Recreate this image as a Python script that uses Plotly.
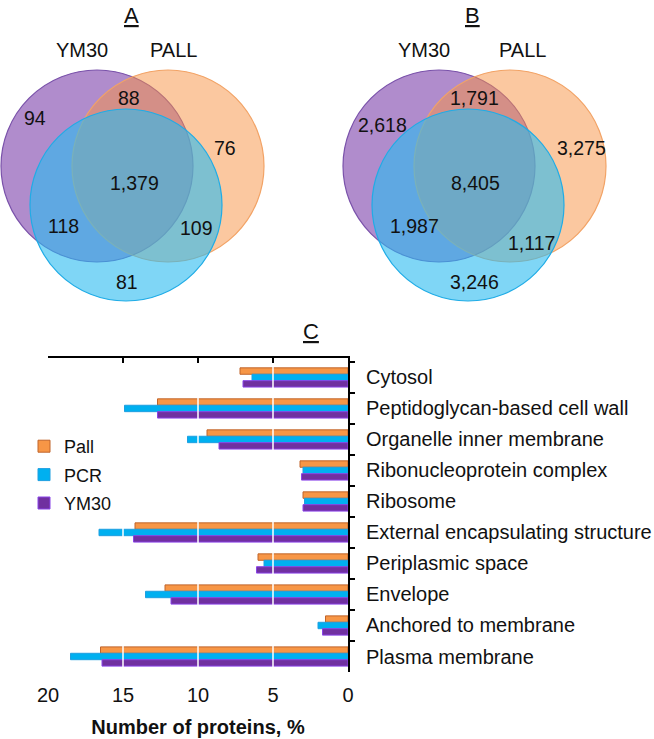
import plotly.graph_objects as go

# ---------------- data ----------------
categories = [
    "Cytosol",
    "Peptidoglycan-based cell wall",
    "Organelle inner membrane",
    "Ribonucleoprotein complex",
    "Ribosome",
    "External encapsulating structure",
    "Periplasmic space",
    "Envelope",
    "Anchored to membrane",
    "Plasma membrane",
]
pall = [7.2, 12.7, 9.4, 3.2, 3.0, 14.2, 6.0, 12.2, 1.5, 16.5]
pcr = [6.4, 14.9, 10.7, 3.0, 2.9, 16.6, 5.6, 13.5, 2.0, 18.5]
ym30 = [7.0, 12.7, 8.6, 3.1, 3.0, 14.3, 6.1, 11.8, 1.7, 16.4]
x_ticks = [20, 15, 10, 5, 0]
grid_vals = [15, 10, 5]

venn_sets = ["YM30", "PALL", "PCR"]
# regions: YM30 only, YM30&PALL, PALL only, all, YM30&PCR, PALL&PCR, PCR only
venn_a_counts = ["94", "88", "76", "1,379", "118", "109", "81"]
venn_b_counts = ["2,618", "1,791", "3,275", "8,405", "1,987", "1,117", "3,246"]

FONT = "Liberation Sans, Arial, sans-serif"

fig = go.Figure()

series = [
    ("Pall", pall, "#F79646", "#C0642A"),
    ("PCR", pcr, "#00B0F0", "#1F9FE0"),
    ("YM30", ym30, "#7030A0", "#8A44E8"),
]
for name, vals, fill, edge in series:
    fig.add_trace(go.Bar(
        name=name, x=vals, y=categories, orientation="h",
        xaxis="x4", yaxis="y4",
        marker=dict(color=fill, line=dict(color=edge, width=1)),
        legendgroup=name,
    ))

# invisible helper so the bottom tick-label axis gets drawn
fig.add_trace(go.Scatter(x=x_ticks, y=[categories[0]] * len(x_ticks), xaxis="x5", yaxis="y4",
                         mode="markers", marker=dict(opacity=0), showlegend=False,
                         hoverinfo="skip"))

W, H = 654, 739

# ---------------- Venn diagrams ----------------
R = 96
circle_offsets = [(0, 0), (71, 0), (29, 39)]
circle_fill = ["rgba(124,64,170,0.6)", "rgba(247,145,65,0.5)", "rgba(42,187,240,0.6)"]
circle_line = ["#7A52AA", "#F2A366", "#20ACE6"]

panels = [
    dict(xa="x2", ya="y2", origin=(97, 166), counts=venn_a_counts, letter="A",
         count_pos=[(-62, -48), (32, -68), (128, -18), (37, 17), (-34, 60), (99, 62), (30, 116)],
         set_pos=[(-15, -116), (76, -116), (40, 155)], letter_pos=(34, -151)),
    dict(xa="x3", ya="y3", origin=(112, 166), counts=venn_b_counts, letter="B",
         count_pos=[(-57, -41), (35, -68), (142, -18), (36, 17), (-25, 60), (92, 77), (35, 116)],
         set_pos=[(-15, -116), (83, -116), (41, 155)], letter_pos=(33, -151)),
]

for p in panels:
    ox, oy = p["origin"]
    for (dx, dy), fc, lc in zip(circle_offsets, circle_fill, circle_line):
        cx, cy = ox + dx, oy + dy
        fig.add_shape(type="circle", xref=p["xa"], yref=p["ya"],
                      x0=cx - R, x1=cx + R, y0=cy - R, y1=cy + R,
                      fillcolor=fc, line=dict(color=lc, width=1.2), layer="above")
    for txt, (dx, dy) in zip(p["counts"], p["count_pos"]):
        fig.add_annotation(x=ox + dx, y=oy + dy, xref=p["xa"], yref=p["ya"], text=txt,
                           showarrow=False, font=dict(size=19.5, color="#111", family=FONT))
    for txt, (dx, dy) in zip(venn_sets, p["set_pos"]):
        fig.add_annotation(x=ox + dx, y=oy + dy, xref=p["xa"], yref=p["ya"], text=txt,
                           showarrow=False, font=dict(size=20, color="#111", family=FONT))
    lx, ly = p["letter_pos"]
    fig.add_annotation(x=ox + lx, y=oy + ly, xref=p["xa"], yref=p["ya"],
                       text="<u>%s</u>" % p["letter"], showarrow=False,
                       font=dict(size=22, color="#111", family=FONT))

# panel C label
fig.add_annotation(x=311 / W, y=1 - 331 / H, xref="paper", yref="paper", text="<u>C</u>",
                   showarrow=False, font=dict(size=22, color="#111", family=FONT))

# white gridlines drawn over the bars
for g in grid_vals:
    fig.add_shape(type="line", xref="x4", yref="y4 domain", x0=g, x1=g, y0=0, y1=0.975,
                  line=dict(color="white", width=1.5), layer="above")

x_dom = [48 / W, 348 / W]
y_dom = [1 - 672 / H, 1 - 358 / H]

fig.update_layout(
    width=W, height=H,
    margin=dict(l=0, r=0, t=0, b=0, autoexpand=False),
    paper_bgcolor="white", plot_bgcolor="white",
    font=dict(family=FONT, color="#111"),
    barmode="group", bargap=0.38, bargroupgap=0,
    showlegend=True,
    legend=dict(x=24 / W, y=1 - 475 / H, xanchor="left", yanchor="middle",
                font=dict(size=18, family=FONT, color="#111"),
                traceorder="grouped", tracegroupgap=2, itemwidth=30,
                bgcolor="rgba(0,0,0,0)"),
    xaxis2=dict(domain=[0, 0.5], range=[0, 327], visible=False, anchor="y2", automargin=False),
    yaxis2=dict(domain=[1 - 320 / H, 1], range=[320, 0], visible=False, anchor="x2", automargin=False),
    xaxis3=dict(domain=[0.5, 1], range=[0, 327], visible=False, anchor="y3", automargin=False),
    yaxis3=dict(domain=[1 - 320 / H, 1], range=[320, 0], visible=False, anchor="x3", automargin=False),
    xaxis4=dict(domain=x_dom, range=[20, 0], anchor="y4", side="top", automargin=False,
                showline=True, linecolor="black", linewidth=2,
                ticks="inside", ticklen=5, tickwidth=2, tickcolor="black",
                tickvals=x_ticks, showticklabels=False, showgrid=False, zeroline=False),
    xaxis5=dict(domain=x_dom, range=[20, 0], anchor="y4", overlaying="x4", side="bottom",
                automargin=False,
                showline=False, ticks="", tickvals=x_ticks, showgrid=False, zeroline=False,
                tickfont=dict(size=20, family=FONT, color="#111"), ticklabelstandoff=9,
                title=dict(text="<b>Number of proteins, %</b>", standoff=14,
                           font=dict(size=20, family=FONT, color="#111"))),
    yaxis4=dict(domain=y_dom, anchor="x4", side="right", autorange="reversed", automargin=False,
                type="category", showline=True, linecolor="black", linewidth=2,
                ticks="outside", tickson="boundaries", ticklen=5, tickwidth=2, tickcolor="black",
                showgrid=False, ticklabelstandoff=12,
                tickfont=dict(size=20, family=FONT, color="#111")),
)

fig.write_html("out.html", config={"displayModeBar": False},
               post_script="document.body.style.margin='0px';")
